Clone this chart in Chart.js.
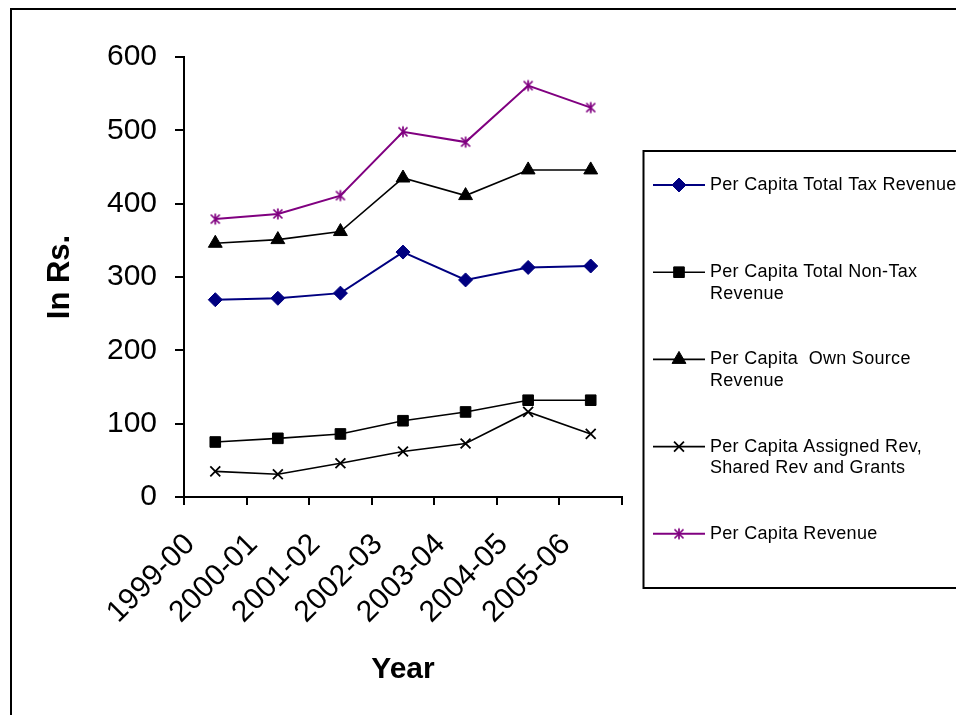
<!DOCTYPE html>
<html><head><meta charset="utf-8">
<script src="https://cdn.jsdelivr.net/npm/chart.js@4/dist/chart.umd.min.js"></script>
<style>html,body{margin:0;padding:0;background:#fff;overflow:hidden}canvas{display:block}</style>
</head><body>
<canvas id="c" width="956" height="715"></canvas>
<script>
// ---- data ----
const years = ['1999-00', '2000-01', '2001-02', '2002-03', '2003-04', '2004-05', '2005-06'];
const totalTax = [269, 271, 278, 334, 296, 313, 315];
const nonTax = [75, 80, 86, 104, 116, 132, 132];
const ownSource = [346, 351, 362, 435, 411, 446, 446];
const assignedShared = [35, 31, 46, 62, 73, 116, 86];
const perCapitaRevenue = [379, 386, 411, 498, 484, 561, 531];
const seriesNames = ['Per Capita Total Tax Revenue', 'Per Capita Total Non-Tax Revenue', 'Per Capita  Own Source Revenue', 'Per Capita Assigned Rev, Shared Rev and Grants', 'Per Capita Revenue'];
const legendLines = [['Per Capita Total Tax Revenue'], ['Per Capita Total Non-Tax', 'Revenue'], ['Per Capita  Own Source', 'Revenue'], ['Per Capita Assigned Rev,', 'Shared Rev and Grants'], ['Per Capita Revenue']];
const yMin = 0, yMax = 600, yStep = 100;
const yTitle = 'In Rs.';
const xTitle = 'Year';

const FONT = "'Liberation Sans', Arial, sans-serif";
const NAVY = '#000080', PURPLE = '#800080', BLACK = '#000000';

// asterisk marker (X + vertical bar)
function makeStar(color) {
  const c = document.createElement('canvas');
  c.width = 14; c.height = 14;
  const g = c.getContext('2d');
  g.strokeStyle = color; g.lineWidth = 1.7; g.lineCap = 'butt';
  g.beginPath();
  g.moveTo(7, 1.5); g.lineTo(7, 12.5);
  g.moveTo(2.5, 2.5); g.lineTo(11.5, 11.5);
  g.moveTo(11.5, 2.5); g.lineTo(2.5, 11.5);
  g.stroke();
  return c;
}
const starImg = makeStar(PURPLE);

const datasets = [
  {label: seriesNames[0], data: totalTax, borderColor: NAVY, backgroundColor: NAVY, borderWidth: 2, pointStyle: 'rectRot', pointRadius: 7, pointBorderWidth: 1},
  {label: seriesNames[1], data: nonTax, borderColor: BLACK, backgroundColor: BLACK, borderWidth: 1.6, pointStyle: 'rect', pointRadius: 7.5, pointBorderWidth: 1},
  {label: seriesNames[2], data: ownSource, borderColor: BLACK, backgroundColor: BLACK, borderWidth: 1.6, pointStyle: 'triangle', pointRadius: 8, pointBorderWidth: 1},
  {label: seriesNames[3], data: assignedShared, borderColor: BLACK, backgroundColor: BLACK, borderWidth: 1.6, pointStyle: 'crossRot', pointRadius: 7, pointBorderWidth: 1.8},
  {label: seriesNames[4], data: perCapitaRevenue, borderColor: PURPLE, backgroundColor: PURPLE, borderWidth: 2, pointStyle: starImg, pointRadius: 7, pointBorderWidth: 1}
];
datasets.forEach(d => { d.tension = 0; d.fill = false; d.pointHoverRadius = d.pointRadius; });

const framePlugin = {
  id: 'frame',
  beforeDraw(chart) {
    const ctx = chart.ctx;
    ctx.save(); ctx.fillStyle = '#fff'; ctx.fillRect(0, 0, chart.width, chart.height); ctx.restore();
  },
  afterDraw(chart) {
    const ctx = chart.ctx;
    ctx.save();
    // outer border
    ctx.strokeStyle = '#000'; ctx.lineWidth = 2;
    ctx.strokeRect(11, 9, 2000, 2000);
    // legend box
    ctx.strokeRect(643.5, 151, 2000, 437);
    // entries
    ctx.font = '18px ' + FONT;
    if ('letterSpacing' in ctx) ctx.letterSpacing = '0.3px';
    ctx.textBaseline = 'middle'; ctx.textAlign = 'left';
    chart.data.datasets.forEach((ds, i) => {
      const y = 185 + i * 87.2;
      ctx.strokeStyle = ds.borderColor; ctx.lineWidth = ds.borderWidth;
      ctx.beginPath(); ctx.moveTo(653, y); ctx.lineTo(705, y); ctx.stroke();
      ctx.fillStyle = ds.backgroundColor; ctx.strokeStyle = ds.borderColor;
      ctx.lineWidth = ds.pointBorderWidth;
      Chart.helpers.drawPoint(ctx, {pointStyle: ds.pointStyle, radius: ds.pointRadius, rotation: 0, borderWidth: ds.pointBorderWidth}, 679, y);
      ctx.fillStyle = '#000';
      legendLines[i].forEach((t, k) => ctx.fillText(t, 710, y + k * 21.5));
    });
    ctx.restore();
  }
};

new Chart(document.getElementById('c'), {
  type: 'line',
  data: {labels: years, datasets},
  plugins: [framePlugin],
  options: {
    responsive: false,
    animation: false,
    layout: {padding: {top: 57, right: 334, bottom: 0, left: 0}},
    plugins: {legend: {display: false}, tooltip: {enabled: false}},
    scales: {
      x: {
        type: 'category',
        offset: true,
        border: {display: true, color: '#000', width: 2},
        grid: {display: true, offset: true, drawOnChartArea: false, drawTicks: true, tickLength: 8, color: '#000', lineWidth: 2},
        ticks: {color: '#000', font: {family: FONT, size: 30}, minRotation: 45, maxRotation: 45, autoSkip: false, padding: 22, labelOffset: -25},
        title: {display: true, text: xTitle, color: '#000', font: {family: FONT, size: 30, weight: 'bold'}, padding: {top: 0, bottom: 27}},
        afterFit(s) { s.height = 218; }
      },
      y: {
        min: yMin, max: yMax,
        border: {display: true, color: '#000', width: 2},
        grid: {display: true, drawOnChartArea: false, drawTicks: true, tickLength: 9, color: '#000', lineWidth: 2},
        ticks: {stepSize: yStep, color: '#000', font: {family: FONT, size: 30}, padding: 18},
        title: {display: true, text: yTitle, color: '#000', font: {family: FONT, size: 31, weight: 'bold'}, padding: {top: 42, bottom: 0}},
        afterFit(s) { s.width = 184; }
      }
    }
  }
});
</script>
</body></html>
